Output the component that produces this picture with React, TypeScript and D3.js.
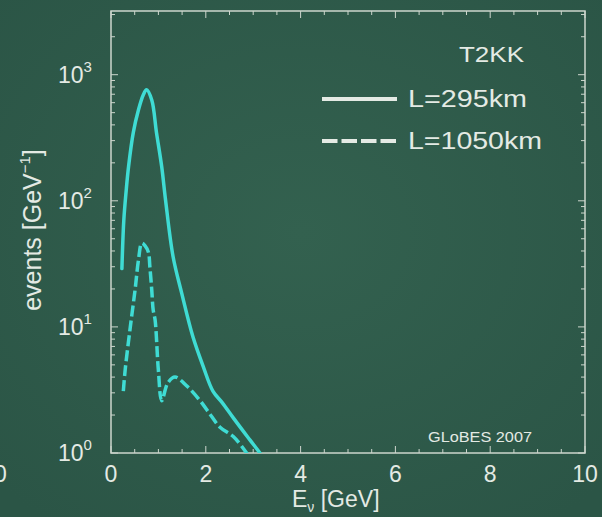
import { useRef, useEffect } from "react";
import * as d3 from "d3";

// L=295km spectrum (solid)
const solidE = [0.23, 0.27, 0.32, 0.37, 0.47, 0.58, 0.68, 0.75, 0.86, 0.96, 1.07, 1.15, 1.31, 1.49, 1.73, 1.95, 2.15, 2.35, 2.58, 2.93, 3.14, 3.25];
const solidN = [29, 70, 120, 186, 347, 527, 690, 760, 630, 347, 186, 102, 36, 18.6, 8.3, 4.8, 3.1, 2.5, 1.9, 1.27, 1.0, 0.85];

// L=1050km spectrum (dashed)
const dashE = [0.26, 0.3, 0.4, 0.51, 0.58, 0.65, 0.72, 0.79, 0.82, 0.86, 0.89, 0.93, 1.0, 1.07, 1.2, 1.35, 1.6, 1.88, 2.1, 2.3, 2.58, 2.86, 2.98];
const dashN = [3.1, 4.6, 9.5, 20, 34, 46, 44, 39, 30, 19.6, 13.6, 11.4, 4.5, 2.6, 3.6, 4.0, 3.4, 2.6, 2.0, 1.6, 1.35, 1.0, 0.85];

const xTicks = [0, 2, 4, 6, 8, 10];
const yTicks = [1, 10, 100, 1000];
const yExp = ["0", "1", "2", "3"];
const legendLabels = ["L=295km", "L=1050km"];

const W = 602;
const H = 517;
const FONT = "'Liberation Sans', Arial, sans-serif";
const CYAN = "#3fdcd4";
const TEXT = "#e4eae4";
const FRAME = "#cdd6cd";

export default function App() {
  const ref = useRef<SVGSVGElement | null>(null);

  useEffect(() => {
    const svg = d3.select(ref.current!);
    svg.selectAll("*").remove();

    const left = 111, right = 585, top = 11, bottom = 453;

    const x = d3.scaleLinear().domain([0, 10]).range([left, right]);
    const y = d3.scaleLog().domain([1, 3200]).range([bottom, top]);

    // background
    const defs = svg.append("defs");
    const grad = defs.append("radialGradient").attr("id", "bg").attr("cx", "50%").attr("cy", "45%").attr("r", "70%");
    grad.append("stop").attr("offset", "0%").attr("stop-color", "#33614f");
    grad.append("stop").attr("offset", "100%").attr("stop-color", "#2b5546");
    svg.append("rect").attr("width", W).attr("height", H).attr("fill", "url(#bg)");

    defs.append("clipPath").attr("id", "plot")
      .append("rect").attr("x", left).attr("y", top).attr("width", right - left).attr("height", bottom - top);

    // frame
    svg.append("rect")
      .attr("x", left).attr("y", top).attr("width", right - left).attr("height", bottom - top)
      .attr("fill", "none").attr("stroke", FRAME).attr("stroke-width", 1.5);

    // ticks on all four sides, pointing inward
    const ticks = svg.append("g").attr("stroke", FRAME).attr("stroke-width", 1);
    const xMinor = d3.range(0, 10.01, 0.5);
    xMinor.forEach((v) => {
      const len = Math.abs(v % 2) < 1e-6 ? 7 : 4;
      ticks.append("line").attr("x1", x(v)).attr("x2", x(v)).attr("y1", bottom).attr("y2", bottom - len);
      ticks.append("line").attr("x1", x(v)).attr("x2", x(v)).attr("y1", top).attr("y2", top + len);
    });
    const yMinor: number[] = [];
    [1, 10, 100, 1000].forEach((d) => {
      for (let k = 1; k <= 9; k++) if (d * k <= 3200) yMinor.push(d * k);
    });
    yMinor.forEach((v) => {
      const len = yTicks.includes(v) ? 7 : 4;
      ticks.append("line").attr("x1", left).attr("x2", left + len).attr("y1", y(v)).attr("y2", y(v));
      ticks.append("line").attr("x1", right).attr("x2", right - len).attr("y1", y(v)).attr("y2", y(v));
    });

    // x tick labels
    svg.append("g").selectAll("text").data(xTicks).join("text")
      .attr("x", (d) => x(d)).attr("y", bottom + 29)
      .attr("text-anchor", "middle").attr("font-family", FONT).attr("font-size", 23)
      .attr("fill", TEXT).text((d) => d);

    // stray "0" from the neighbouring panel at the left edge
    svg.append("text").attr("x", -6).attr("y", bottom + 29)
      .attr("font-family", FONT).attr("font-size", 23).attr("fill", TEXT).text("0");

    // y tick labels 10^n
    const yl = svg.append("g").selectAll("text").data(yTicks).join("text")
      .attr("x", 58).attr("y", (d) => y(d) + 8)
      .attr("font-family", FONT).attr("fill", TEXT);
    yl.append("tspan").attr("font-size", 23).text("10");
    yl.append("tspan").attr("font-size", 15).attr("dy", -11).text((d, i) => yExp[i]);

    // axis titles
    const xt = svg.append("text").attr("x", 292).attr("y", 507)
      .attr("font-family", FONT).attr("font-size", 23).attr("fill", TEXT);
    xt.append("tspan").text("E");
    xt.append("tspan").attr("font-size", 14).attr("dy", 5).text("ν");
    xt.append("tspan").attr("dy", -5).text(" [GeV]");

    const yt = svg.append("text")
      .attr("transform", "translate(41,230) rotate(-90)")
      .attr("text-anchor", "middle")
      .attr("font-family", FONT).attr("font-size", 25).attr("fill", TEXT);
    yt.append("tspan").text("events [GeV");
    yt.append("tspan").attr("font-size", 15).attr("dy", -11).text("−1");
    yt.append("tspan").attr("dy", 11).text("]");

    // curves
    const lineGen = d3.line<number>()
      .x((d) => x(d))
      .curve(d3.curveCatmullRom.alpha(0.5));

    const curves = svg.append("g").attr("clip-path", "url(#plot)");
    curves.append("path")
      .attr("d", lineGen.y((d, i) => y(solidN[i]))(solidE))
      .attr("fill", "none").attr("stroke", CYAN).attr("stroke-width", 3.5)
      .attr("stroke-linejoin", "round").attr("stroke-linecap", "round");
    curves.append("path")
      .attr("d", lineGen.y((d, i) => y(dashN[i]))(dashE))
      .attr("fill", "none").attr("stroke", CYAN).attr("stroke-width", 3.5)
      .attr("stroke-dasharray", "11,4").attr("stroke-linejoin", "round");

    // legend
    svg.append("text").attr("x", 459).attr("y", 62)
      .attr("font-family", FONT).attr("font-size", 22).attr("fill", TEXT)
      .attr("textLength", 65).attr("lengthAdjust", "spacingAndGlyphs").text("T2KK");

    const leg = svg.append("g").selectAll("g").data(legendLabels).join("g")
      .attr("transform", (d, i) => `translate(0,${i * 42})`);
    leg.append("line")
      .attr("x1", 322).attr("x2", 397).attr("y1", 99).attr("y2", 99)
      .attr("stroke", TEXT).attr("stroke-width", 4)
      .attr("stroke-dasharray", (d, i) => (i === 0 ? null : "15.5,4"));
    leg.append("text").attr("x", 408).attr("y", 107)
      .attr("font-family", FONT).attr("font-size", 23).attr("fill", TEXT)
      .attr("textLength", (d, i) => (i === 0 ? 119 : 134)).attr("lengthAdjust", "spacingAndGlyphs")
      .text((d) => d);

    svg.append("text").attr("x", 428).attr("y", 442)
      .attr("font-family", FONT).attr("font-size", 14).attr("fill", TEXT)
      .attr("textLength", 104).attr("lengthAdjust", "spacingAndGlyphs").text("GLoBES 2007");
  }, []);

  return (
    <svg ref={ref} width={W} height={H} style={{ position: "absolute", left: 0, top: 0 }}></svg>
  );
}
